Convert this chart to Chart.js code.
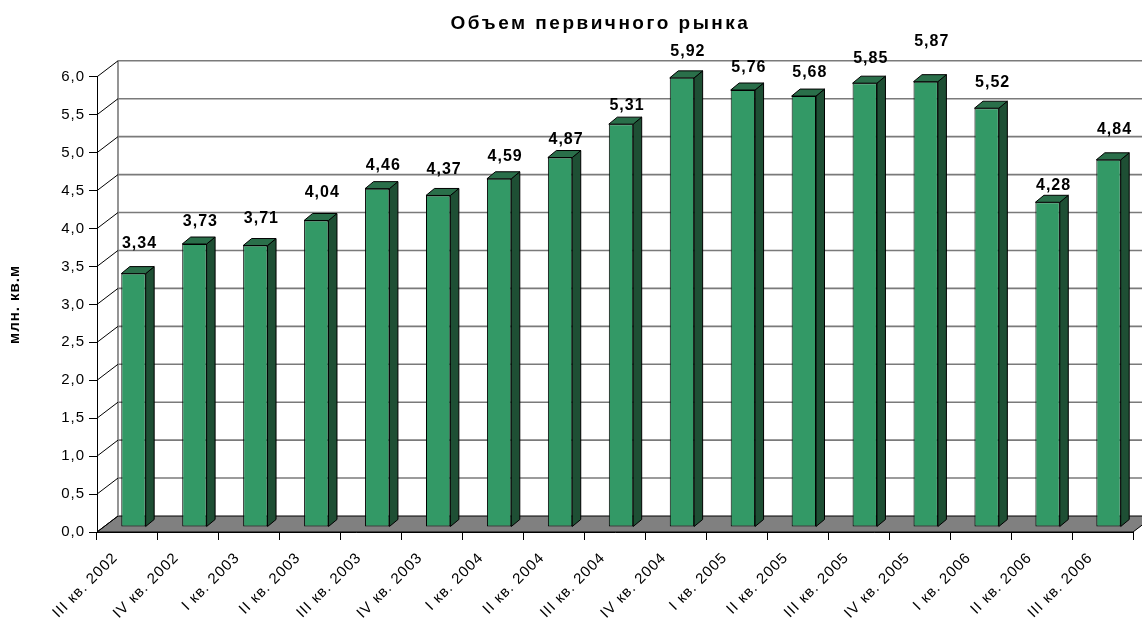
<!DOCTYPE html>
<html>
<head>
<meta charset="utf-8">
<script src="https://cdn.jsdelivr.net/npm/chart.js@4.4.1/dist/chart.umd.min.js"></script>
<style>
  html, body { margin: 0; padding: 0; background: #fff; }
  canvas { display: block; }
</style>
</head>
<body>
<canvas id="chart" width="1142" height="618"></canvas>
<script>
// --- данные ---
const quarters = [
  'III кв. 2002', 'IV кв. 2002', 'I кв. 2003', 'II кв. 2003', 'III кв. 2003',
  'IV кв. 2003', 'I кв. 2004', 'II кв. 2004', 'III кв. 2004', 'IV кв. 2004',
  'I кв. 2005', 'II кв. 2005', 'III кв. 2005', 'IV кв. 2005', 'I кв. 2006',
  'II кв. 2006', 'III кв. 2006'
];
const volume = [3.34, 3.73, 3.71, 4.04, 4.46, 4.37, 4.59, 4.87, 5.31, 5.92,
                5.76, 5.68, 5.85, 5.87, 5.52, 4.28, 4.84];
const yTickValues = [0, 0.5, 1, 1.5, 2, 2.5, 3, 3.5, 4, 4.5, 5, 5.5, 6];

// подписи в исходнике сдвинуты вручную, немного по-разному
const labelLift = [6, -2, 3, 4, -1, 2, -2, -6, -5, 2, -2, -1, 1, 16, 2, -7, 6];

const FONT = "'Liberation Sans', Arial, sans-serif";
const WALL = { dx: 21, dy: -16 };      // глубина "коробки"
const BAR_SHIFT = { dx: 6, dy: -5 };   // столбцы стоят чуть вглубь
const BAR_DEPTH = { dx: 8.5, dy: -7 };

const fmt = (v, d) => v.toFixed(d).replace('.', ',');

function line(ctx, x1, y1, x2, y2) {
  ctx.beginPath();
  ctx.moveTo(x1, y1);
  ctx.lineTo(x2, y2);
  ctx.stroke();
}

const excel3d = {
  id: 'excel3d',

  beforeDraw(chart) {
    const { ctx, chartArea: a, scales: { y } } = chart;
    ctx.letterSpacing = '1px';

    // заголовок шире и чуть правее, как в Excel
    const tb = chart.titleBlock;
    if (tb && !tb._wide) {
      const orig = tb.draw;
      tb.draw = function (...args) {
        ctx.save();
        ctx.letterSpacing = '2.5px';
        ctx.translate(34, 0);
        orig.apply(this, args);
        ctx.restore();
      };
      tb._wide = true;
    }

    ctx.save();
    // пол
    ctx.beginPath();
    ctx.moveTo(a.left, a.bottom);
    ctx.lineTo(a.left + WALL.dx, a.bottom + WALL.dy);
    ctx.lineTo(a.right + WALL.dx, a.bottom + WALL.dy);
    ctx.lineTo(a.right, a.bottom);
    ctx.closePath();
    ctx.fillStyle = '#808080';
    ctx.fill();
    ctx.strokeStyle = '#000';
    ctx.lineWidth = 1;
    ctx.stroke();

    // задняя стенка
    ctx.strokeStyle = '#7a7a7a';
    ctx.lineWidth = 1.6;
    y.ticks.forEach(t => {
      if (t.value === 0) return;
      const py = y.getPixelForValue(t.value) + WALL.dy;
      line(ctx, a.left + WALL.dx, py, a.right + WALL.dx, py);
    });
    line(ctx, a.left + WALL.dx, a.top + WALL.dy, a.left + WALL.dx, a.bottom + WALL.dy);

    // боковая стенка
    ctx.strokeStyle = '#000';
    ctx.lineWidth = 1;
    y.ticks.forEach(t => {
      const py = y.getPixelForValue(t.value);
      line(ctx, a.left, py, a.left + WALL.dx, py + WALL.dy);
    });
    ctx.restore();
  },

  beforeDatasetsDraw(chart) {
    const ctx = chart.ctx;
    ctx.save();
    ctx.translate(BAR_SHIFT.dx, BAR_SHIFT.dy);
    ctx.lineWidth = 1;
    ctx.strokeStyle = '#000';
    chart.getDatasetMeta(0).data.forEach(bar => {
      const { x, y, base, width } = bar.getProps(['x', 'y', 'base', 'width'], true);
      const l = x - width / 2, r = x + width / 2;
      // бок
      ctx.beginPath();
      ctx.moveTo(r, y);
      ctx.lineTo(r + BAR_DEPTH.dx, y + BAR_DEPTH.dy);
      ctx.lineTo(r + BAR_DEPTH.dx, base + BAR_DEPTH.dy);
      ctx.lineTo(r, base);
      ctx.closePath();
      ctx.fillStyle = '#1e4f34';
      ctx.fill();
      ctx.stroke();
      // верх
      ctx.beginPath();
      ctx.moveTo(l, y);
      ctx.lineTo(l + BAR_DEPTH.dx, y + BAR_DEPTH.dy);
      ctx.lineTo(r + BAR_DEPTH.dx, y + BAR_DEPTH.dy);
      ctx.lineTo(r, y);
      ctx.closePath();
      ctx.fillStyle = '#2a6f4a';
      ctx.fill();
      ctx.stroke();
    });
  },

  afterDatasetsDraw(chart) {
    const ctx = chart.ctx;
    ctx.restore();
    ctx.save();
    ctx.font = `bold 16px ${FONT}`;
    ctx.letterSpacing = '1px';
    ctx.fillStyle = '#000';
    ctx.textAlign = 'center';
    ctx.textBaseline = 'middle';
    chart.getDatasetMeta(0).data.forEach((bar, i) => {
      const { x, y } = bar.getProps(['x', 'y'], true);
      ctx.fillText(fmt(volume[i], 2), x + BAR_SHIFT.dx + 6,
                   y + BAR_SHIFT.dy - 24 - labelLift[i]);
    });
    ctx.restore();
  }
};

new Chart(document.getElementById('chart'), {
  type: 'bar',
  data: {
    labels: quarters,
    datasets: [{
      data: volume,
      backgroundColor: '#339966',
      borderColor: '#000',
      borderWidth: 1,
      borderSkipped: false,
      categoryPercentage: 1,
      barPercentage: 0.4,
      clip: false
    }]
  },
  options: {
    responsive: false,
    animation: false,
    devicePixelRatio: 1,
    layout: { padding: { top: 0, right: 9, bottom: 0, left: 0 } },
    plugins: {
      legend: { display: false },
      tooltip: { enabled: false },
      title: {
        display: true,
        text: 'Объем первичного рынка',
        color: '#000',
        font: { family: FONT, size: 19, weight: 'bold' },
        padding: { top: 12, bottom: 42 }
      }
    },
    scales: {
      x: {
        grid: { drawOnChartArea: false, color: '#000', tickLength: 8, offset: true },
        border: { color: '#000' },
        ticks: {
          color: '#000',
          font: { family: FONT, size: 15 },
          minRotation: 45,
          maxRotation: 45,
          autoSkip: false,
          padding: 9,
          labelOffset: -12
        },
        afterFit: s => { s.height = 86; }
      },
      y: {
        min: 0,
        max: 6,
        afterBuildTicks: s => { s.ticks = yTickValues.map(v => ({ value: v })); },
        grid: { drawOnChartArea: false, color: '#000', tickLength: 8 },
        border: { color: '#000' },
        ticks: {
          color: '#000',
          font: { family: FONT, size: 15 },
          padding: 4,
          callback: v => fmt(v, 1)
        },
        title: {
          display: true,
          text: 'млн. кв.м',
          color: '#000',
          font: { family: FONT, size: 15, weight: 'bold' },
          padding: { top: 6, bottom: 0 }
        },
        afterFit: s => { s.width = 97; }
      }
    }
  },
  plugins: [excel3d]
});
</script>
</body>
</html>
